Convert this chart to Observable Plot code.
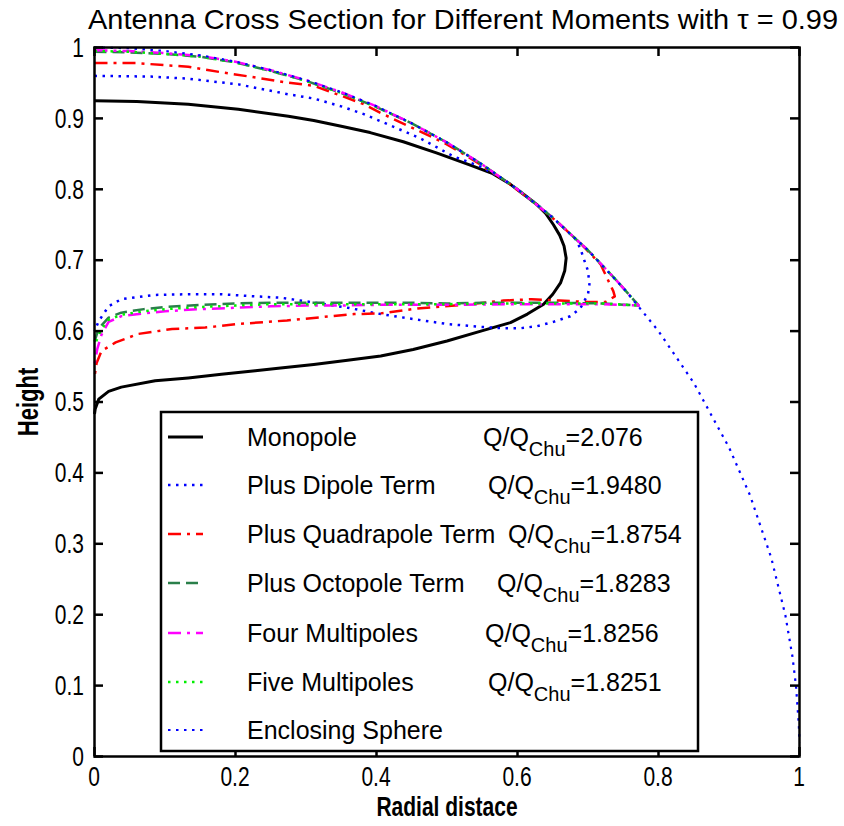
<!DOCTYPE html>
<html><head><meta charset="utf-8">
<script src="https://cdn.jsdelivr.net/npm/d3@7"></script>
<script src="https://cdn.jsdelivr.net/npm/@observablehq/plot@0.6"></script>
<style>body{margin:0;background:#fff} svg{display:block}</style>
</head><body><div id="chart"></div>
<script>
const xTicks = [0, 0.2, 0.4, 0.6, 0.8, 1];
const xTickLabels = ["0", "0.2", "0.4", "0.6", "0.8", "1"];
const yTicks = [0, 0.1, 0.2, 0.3, 0.4, 0.5, 0.6, 0.7, 0.8, 0.9, 1];
const yTickLabels = ["0", "0.1", "0.2", "0.3", "0.4", "0.5", "0.6", "0.7", "0.8", "0.9", "1"];

const titleText = "Antenna Cross Section for Different Moments with τ = 0.99";
const xLabel = "Radial distace";
const yLabel = "Height";

const seriesNames = ["Monopole", "Plus Dipole Term", "Plus Quadrapole Term", "Plus Octopole Term", "Four Multipoles", "Five Multipoles", "Enclosing Sphere"];
const seriesQ = ["2.076", "1.9480", "1.8754", "1.8283", "1.8256", "1.8251", null];

// [radial, height] pairs, in drawing order
const monopole = [[0,0.925],[0.06,0.924],[0.133,0.92],[0.204,0.913],[0.275,0.903],[0.311,0.897],[0.35,0.889],[0.391,0.88],[0.438,0.867],[0.486,0.851],[0.533,0.834],[0.565,0.822],[0.59,0.807],[0.61,0.792],[0.628,0.778],[0.64,0.766],[0.651,0.75],[0.66,0.735],[0.666,0.72],[0.669,0.703],[0.667,0.685],[0.661,0.668],[0.65,0.652],[0.637,0.638],[0.614,0.624],[0.59,0.612],[0.548,0.6],[0.5,0.586],[0.452,0.574],[0.406,0.565],[0.359,0.559],[0.311,0.553],[0.264,0.548],[0.228,0.544],[0.18,0.539],[0.133,0.534],[0.086,0.53],[0.038,0.521],[0.02,0.515],[0.006,0.504],[0.001,0.49],[0,0.483]];
const dipole = [[0,0.96],[0.08,0.959],[0.133,0.956],[0.204,0.948],[0.275,0.934],[0.311,0.928],[0.35,0.917],[0.382,0.906],[0.42,0.89],[0.462,0.872],[0.51,0.846],[0.548,0.832],[0.58,0.814],[0.62,0.785],[0.65,0.76],[0.682,0.73],[0.689,0.717],[0.695,0.699],[0.7,0.685],[0.702,0.666],[0.7,0.652],[0.689,0.632],[0.675,0.621],[0.651,0.613],[0.628,0.607],[0.604,0.604],[0.58,0.604],[0.548,0.606],[0.5,0.61],[0.452,0.617],[0.406,0.624],[0.359,0.633],[0.3,0.642],[0.265,0.647],[0.228,0.649],[0.18,0.652],[0.133,0.652],[0.086,0.651],[0.038,0.645],[0.02,0.635],[0.006,0.614],[0,0.6]];
const quadrapole = [[0,0.978],[0.06,0.978],[0.1,0.975],[0.133,0.973],[0.18,0.965],[0.22,0.959],[0.27,0.951],[0.311,0.946],[0.35,0.932],[0.382,0.92],[0.405,0.908],[0.448,0.888],[0.495,0.866],[0.533,0.844],[0.58,0.814],[0.62,0.784],[0.66,0.751],[0.69,0.723],[0.718,0.694],[0.727,0.675],[0.736,0.656],[0.738,0.649],[0.725,0.641],[0.7,0.641],[0.66,0.643],[0.62,0.645],[0.58,0.643],[0.524,0.637],[0.458,0.632],[0.406,0.625],[0.368,0.624],[0.325,0.62],[0.273,0.615],[0.204,0.61],[0.157,0.605],[0.11,0.603],[0.062,0.596],[0.03,0.584],[0.01,0.572],[0.003,0.555],[0,0.535]];
const octopole = [[0,0.994],[0.05,0.993],[0.1,0.991],[0.15,0.987],[0.2,0.979],[0.25,0.967],[0.3,0.953],[0.35,0.936],[0.4,0.916],[0.45,0.893],[0.5,0.866],[0.55,0.835],[0.6,0.8],[0.65,0.76],[0.7,0.714],[0.74,0.672],[0.772,0.636],[0.72,0.639],[0.65,0.64],[0.6,0.64],[0.55,0.64],[0.5,0.639],[0.45,0.64],[0.4,0.64],[0.35,0.64],[0.3,0.64],[0.25,0.64],[0.2,0.639],[0.15,0.637],[0.1,0.634],[0.07,0.631],[0.038,0.626],[0.02,0.619],[0.01,0.608],[0.004,0.598],[0,0.585]];
const fourMultipoles = [[0,0.996],[0.05,0.995],[0.1,0.992],[0.15,0.988],[0.2,0.98],[0.25,0.968],[0.3,0.954],[0.35,0.937],[0.4,0.917],[0.45,0.893],[0.5,0.866],[0.55,0.835],[0.6,0.8],[0.65,0.76],[0.7,0.714],[0.74,0.672],[0.772,0.636],[0.72,0.638],[0.65,0.638],[0.6,0.638],[0.5,0.637],[0.4,0.637],[0.35,0.636],[0.3,0.636],[0.25,0.635],[0.2,0.633],[0.15,0.631],[0.1,0.628],[0.07,0.625],[0.038,0.621],[0.02,0.613],[0.01,0.595],[0.004,0.575],[0,0.553]];
const fiveMultipoles = [[0,0.995],[0.05,0.994],[0.1,0.991],[0.15,0.987],[0.2,0.979],[0.25,0.967],[0.3,0.953],[0.35,0.936],[0.4,0.916],[0.45,0.893],[0.5,0.866],[0.55,0.835],[0.6,0.8],[0.65,0.76],[0.7,0.714],[0.74,0.672],[0.772,0.636],[0.72,0.639],[0.6,0.639],[0.5,0.638],[0.4,0.638],[0.3,0.638],[0.25,0.638],[0.2,0.636],[0.15,0.634],[0.1,0.631],[0.07,0.628],[0.038,0.623],[0.02,0.616],[0.01,0.603],[0.004,0.59],[0,0.578]];
const enclosingSphere = [[0,1],[0.05,0.999],[0.1,0.995],[0.15,0.989],[0.2,0.98],[0.25,0.968],[0.3,0.954],[0.35,0.937],[0.4,0.917],[0.45,0.893],[0.5,0.866],[0.55,0.835],[0.6,0.8],[0.65,0.76],[0.7,0.714],[0.75,0.661],[0.8,0.6],[0.85,0.527],[0.9,0.436],[0.93,0.368],[0.96,0.28],[0.98,0.199],[0.99,0.141],[0.995,0.1],[0.999,0.045],[1,0.02]];

const seriesData = [monopole, dipole, quadrapole, octopole, fourMultipoles, fiveMultipoles, enclosingSphere];
const seriesStyle = [
  {stroke: "#000000", width: 3, dash: null},
  {stroke: "#0000ff", width: 2.5, dash: "2.5,5.5"},
  {stroke: "#ff0000", width: 2.5, dash: "13,6,3,6"},
  {stroke: "#2a7f4a", width: 2.5, dash: "12,6"},
  {stroke: "#ff00ff", width: 2.5, dash: "13,6,3,6"},
  {stroke: "#00ee00", width: 2.5, dash: "2.5,5.5"},
  {stroke: "#0000ff", width: 2.2, dash: "2.5,5.5"}
];

const rows = seriesData.map((pts, s) => pts.map(([r, h]) => ({r, h, s})));

const W = 844, H = 826, mL = 94, mR = 45, mT = 47, mB = 70;
const fw = W - mL - mR, fh = H - mT - mB, tk = 9;

const lineMarks = rows.map((d, s) => Plot.line(d, {
  x: "r", y: "h", stroke: seriesStyle[s].stroke, strokeWidth: seriesStyle[s].width,
  strokeDasharray: seriesStyle[s].dash, strokeLinecap: "butt", strokeLinejoin: "round"
}));

const chart = Plot.plot({
  width: W, height: H,
  marginLeft: mL, marginRight: mR, marginTop: mT, marginBottom: mB,
  style: {fontFamily: "'Liberation Sans', Arial, sans-serif", background: "white", color: "black", overflow: "visible"},
  x: {domain: [0, 1], label: null, axis: null},
  y: {domain: [0, 1], label: null, axis: null},
  marks: [
    ...lineMarks,
    Plot.tickX(xTicks, {x: d => d, insetTop: fh - tk, stroke: "black", strokeWidth: 2.5}),
    Plot.tickX(xTicks, {x: d => d, insetBottom: fh - tk, stroke: "black", strokeWidth: 2.5}),
    Plot.tickY(yTicks, {y: d => d, insetRight: fw - tk, stroke: "black", strokeWidth: 2.5}),
    Plot.tickY(yTicks, {y: d => d, insetLeft: fw - tk, stroke: "black", strokeWidth: 2.5}),
    Plot.frame({stroke: "black", strokeWidth: 2.5})
  ]
});

const svg = d3.select(chart);
const font = "'Liberation Sans', Arial, sans-serif";
const sx = chart.scale("x"), sy = chart.scale("y");
const stretch = 1.3, tickFont = 21;

// tick labels placed with the chart's own scales
const tl = svg.append("g").attr("font-family", font).attr("font-size", tickFont).attr("fill", "black");
xTicks.forEach((v, i) => {
  tl.append("text").attr("text-anchor", "middle")
    .attr("transform", `translate(${sx.apply(v)},${H - mB + 10 + 0.716 * tickFont * stretch}) scale(1,${stretch})`)
    .text(xTickLabels[i]);
});
yTicks.forEach((v, i) => {
  tl.append("text").attr("text-anchor", "end")
    .attr("transform", `translate(${mL - 10},${sy.apply(v) + 0.358 * tickFont * stretch}) scale(1,${stretch})`)
    .text(yTickLabels[i]);
});

// title
svg.append("text").attr("x", 88).attr("y", 29).attr("text-anchor", "start").attr("font-family", font).attr("font-size", 28)
  .attr("textLength", 750).attr("lengthAdjust", "spacingAndGlyphs").attr("fill", "black").text(titleText);
// axis labels
svg.append("text").attr("transform", `translate(447,816) scale(1,${stretch})`).attr("text-anchor", "middle")
  .attr("font-family", font).attr("font-size", 21).attr("font-weight", "bold").attr("fill", "black").text(xLabel);
svg.append("text").attr("transform", `translate(38,402) rotate(-90) scale(1,${stretch})`).attr("text-anchor", "middle")
  .attr("font-family", font).attr("font-size", 22).attr("font-weight", "bold").attr("fill", "black").text(yLabel);

// legend
const lg = svg.append("g").attr("font-family", font).attr("font-size", 25).attr("fill", "black").attr("text-anchor", "start");
lg.append("rect").attr("x", 161).attr("y", 412).attr("width", 537).attr("height", 339)
  .attr("fill", "white").attr("stroke", "black").attr("stroke-width", 2.5);
const rowY = [437, 485, 534, 583, 633, 682, 730];
const qX = [483, 488, 508, 497, 485, 488, 0];
seriesNames.forEach((name, i) => {
  const st = seriesStyle[i];
  lg.append("line").attr("x1", 168).attr("x2", 203).attr("y1", rowY[i]).attr("y2", rowY[i])
    .attr("stroke", st.stroke).attr("stroke-width", st.width).attr("stroke-dasharray", st.dash);
  lg.append("text").attr("x", 247).attr("y", rowY[i] + 9).attr("text-anchor", "start").text(name);
  if (seriesQ[i]) {
    const t = lg.append("text").attr("x", qX[i]).attr("y", rowY[i] + 9).attr("text-anchor", "start");
    t.append("tspan").text("Q/Q");
    t.append("tspan").attr("font-size", 20).attr("dy", 10).text("Chu");
    t.append("tspan").attr("dy", -10).text("=" + seriesQ[i]);
  }
});

document.getElementById("chart").appendChild(chart);
</script></body></html>
